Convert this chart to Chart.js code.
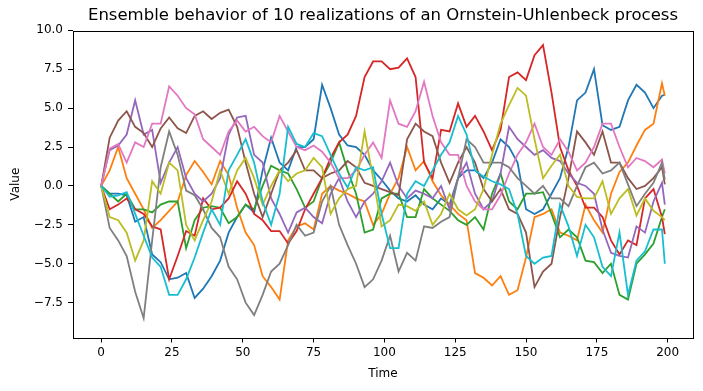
<!DOCTYPE html>
<html><head><meta charset="utf-8">
<script src="https://cdn.jsdelivr.net/npm/chart.js@4/dist/chart.umd.min.js"></script>
<style>html,body{margin:0;padding:0;background:#fff;}canvas{display:block;}</style>
</head><body>
<canvas id="c" width="703" height="391"></canvas>
<script>
const times = [0,3,6,9,12,15,18,21,24,27,30,33,36,39,42,45,48,51,54,57,60,63,66,69,72,75,78,81,84,87,90,93,96,99,102,105,108,111,114,117,120,123,126,129,132,135,138,141,144,147,150,153,156,159,162,165,168,171,174,177,180,183,186,189,192,195,198,199];

const real0 = [0,-0.5,-0.5,-0.6,-2.3,-2.0,-4.4,-4.9,-6.0,-5.9,-5.6,-7.2,-6.6,-5.8,-4.8,-3.0,-2.0,-1.2,-1.7,1.0,3.1,1.5,1.0,2.5,2.5,3.0,6.5,5.0,3.3,2.6,2.5,2.0,1.0,0.4,-0.3,-0.8,-1.0,-0.6,-1.2,-1.5,-0.8,-1.2,0.5,1.0,1.0,0.5,1.5,3.0,2.5,1.5,-1.5,-1.8,-1.5,-0.5,0.5,2.5,5.5,6.0,7.5,3.9,3.6,3.8,5.5,6.5,6.0,5.0,5.8,5.85];
const real1 = [0,1.0,2.5,0.5,-0.5,-1.5,-2.7,-2.2,-1.6,-1.0,0.7,1.6,0.9,0.1,1.6,0.7,-1.4,-3.0,-3.8,-5.8,-6.5,-7.3,-3.5,-2.6,-2.4,-2.8,-0.5,0.0,-0.3,-0.5,-0.8,-1.0,-2.5,-1.8,-0.5,0.5,2.5,1.0,1.6,0.3,-0.6,-1.2,-1.8,-2.2,-5.6,-5.9,-6.4,-5.8,-7.0,-6.7,-4.6,-2.0,-1.8,-1.5,-3.0,-3.2,-3.5,-1.2,-2.2,-3.0,-0.5,0.9,1.5,2.6,3.6,4.0,6.6,5.8];
const real2 = [0,-0.5,-1.0,-0.5,-1.5,-1.5,-1.7,-1.2,-1.0,-1.0,-4.0,-2.2,-1.4,-1.3,-1.4,-2.4,-2.0,-1.2,-1.5,0.0,1.3,1.0,0.8,-0.2,-1.4,-1.0,0.5,1.5,2.8,1.0,-0.5,-3.0,-2.8,-0.8,-0.5,-0.5,-2.0,-2.0,-0.2,-0.8,-1.2,-1.6,-2.2,-2.5,-2.0,-2.8,-0.5,0.8,-1.0,-1.5,-0.5,-0.5,-0.4,-1.8,-3.3,-2.8,-3.3,-4.8,-4.9,-5.6,-5.0,-7.0,-7.3,-5.0,-4.4,-3.7,-2.0,-1.5];
const real3 = [0,-1.5,-1.2,-0.8,-1.5,-1.8,-2.6,-2.8,-6.0,-4.5,-2.9,-3.2,-0.8,-1.5,-1.4,-0.8,0.3,-0.5,-1.8,-2.2,-2.9,-2.9,-3.7,-2.9,-1.5,-0.5,0.5,1.8,2.8,3.3,4.5,7.0,8.0,8.0,7.5,7.6,8.2,7.0,1.5,0.5,3.6,3.5,5.3,3.8,4.5,3.5,2.3,3.6,7.0,7.3,6.8,8.4,9.05,6.0,2.5,1.0,0.0,-1.4,-1.4,-2.0,-3.5,-4.4,-3.5,-3.8,-0.8,-0.2,-2.0,-3.1];
const real4 = [0,2.3,2.6,3.3,5.5,3.3,3.6,0.2,1.5,2.5,0.5,-0.5,-1.0,-0.5,0.5,3.3,4.4,4.5,2.0,1.5,-0.8,-1.8,-3.0,-1.7,-1.4,-2.0,-2.4,-0.5,0.5,-1.0,-2.0,-1.0,-0.5,0.3,1.5,0.0,-0.8,-0.3,-0.5,-0.8,0.0,-1.5,0.5,1.5,-0.5,-1.5,-1.0,0.8,3.8,3.0,2.5,2.0,2.3,1.8,1.6,0.8,0.2,0.0,-0.5,-2.8,-4.3,-4.5,-4.6,-2.6,-3.0,-1.0,0.2,-1.2];
const real5 = [0,3.1,4.2,4.8,3.8,3.4,2.5,3.7,4.4,3.7,3.4,4.5,4.8,4.3,4.7,4.9,3.8,1.5,-0.5,-2.0,-0.5,1.0,1.5,2.3,1.0,1.0,0.5,0.8,1.0,1.6,1.2,0.2,0.0,-0.2,-0.4,-0.6,3.0,4.0,3.5,3.2,1.5,0.2,1.5,2.5,1.5,-0.2,-1.0,-0.2,-1.5,-1.8,-3.0,-6.5,-5.5,-5.0,-2.0,0.5,3.5,2.8,2.0,3.5,1.5,1.5,0.5,-0.2,0.0,0.5,1.2,0.1];
const real6 = [0,2.4,2.7,1.5,2.8,2.5,4.0,4.0,6.4,5.8,5.0,4.6,3.0,2.5,2.0,3.5,4.2,3.5,3.8,3.2,2.8,4.5,3.5,2.5,2.3,2.6,2.2,1.5,0.5,0.5,1.0,2.0,2.8,1.8,5.5,4.0,3.8,4.8,6.7,4.5,2.8,2.0,2.0,0.0,-1.0,-1.5,-1.5,-0.6,0.8,2.0,2.8,4.0,2.5,2.0,3.0,2.2,1.0,1.5,2.5,4.0,4.0,2.5,1.2,1.8,1.6,1.2,1.7,0.8];
const real7 = [0,-2.7,-3.5,-4.5,-6.8,-8.5,-3.5,1.2,3.5,2.0,-0.3,-0.6,-1.5,-2.7,-3.3,-5.2,-6.0,-7.5,-8.3,-7.0,-5.5,-5.0,-3.8,-2.5,-3.2,-3.0,-1.0,0.0,-2.5,-3.8,-5.0,-6.5,-6.0,-4.8,-3.2,-5.5,-4.3,-4.8,-2.6,-2.7,-2.3,-2.0,0.5,3.0,2.5,1.5,1.5,1.5,1.2,0.5,0.0,-0.5,0.0,-0.8,-0.8,-1.3,0.0,1.2,1.5,0.8,1.0,1.5,0.1,-1.3,-0.5,0.2,1.5,0.4];
const real8 = [0,-2.0,-2.2,-3.0,-4.8,-3.5,0.3,-0.5,1.5,1.0,-2.5,-3.5,-2.2,-1.0,1.0,-0.5,1.0,1.8,0.5,-1.2,0.0,1.0,0.3,0.8,1.0,1.8,1.2,-1.8,-0.8,-0.2,0.0,3.5,0.5,-2.6,-2.2,-1.2,-1.3,-1.6,-1.0,-2.5,-1.8,-0.5,-1.5,-1.9,-1.5,-0.2,2.0,4.0,5.2,6.3,5.8,3.0,0.5,1.3,2.0,0.0,-0.7,-0.8,-0.8,0.3,-1.8,-0.8,-0.2,-1.9,-0.8,-1.6,-2.0,-2.2];
const real9 = [0,-0.7,-0.6,-0.4,-1.8,-3.2,-4.6,-5.2,-7.0,-7.0,-6.0,-4.6,-3.0,-1.5,-2.5,1.0,2.0,3.0,1.5,-1.0,-2.5,-0.5,3.8,2.7,2.5,3.4,3.2,2.0,0.8,-0.1,1.2,1.0,1.2,-1.8,-4.0,-4.0,-0.5,0.3,0.0,1.0,2.0,2.8,4.5,3.3,1.0,0.6,0.3,0.1,-0.2,-1.8,-4.5,-5.0,-4.6,-4.5,-1.2,-2.6,-4.5,-2.5,-3.3,-5.2,-5.8,-3.0,-7.0,-4.8,-4.2,-2.8,-2.8,-5.0];

const xTicks = [0,25,50,75,100,125,150,175,200];
const yTicks = [-7.5,-5.0,-2.5,0.0,2.5,5.0,7.5,10.0];
const titleText = 'Ensemble behavior of 10 realizations of an Ornstein-Uhlenbeck process';

const seriesList = [real0,real1,real2,real3,real4,real5,real6,real7,real8,real9];
const colors = ['#1f77b4','#ff7f0e','#2ca02c','#d62728','#9467bd','#8c564b','#e377c2','#7f7f7f','#bcbd22','#17becf'];

Chart.defaults.font.family = "'DejaVu Sans', sans-serif";
Chart.defaults.color = '#000';

const datasets = seriesList.map((vals, i) => ({
  label: 'R' + (i + 1),
  data: vals.map((v, k) => ({x: times[k], y: v})),
  borderColor: colors[i],
  borderWidth: 1.8,
  pointRadius: 0,
  tension: 0,
  fill: false,
  order: seriesList.length - 1 - i
}));

const frame = {
  id: 'frame',
  afterDatasetsDraw(chart) {
    const a = chart.chartArea, c = chart.ctx;
    c.save();
    c.strokeStyle = '#000';
    c.lineWidth = 1;
    c.strokeRect(Math.round(a.left) + 0.5, Math.round(a.top) + 0.5, Math.round(a.right - a.left), Math.round(a.bottom - a.top));
    c.restore();
  }
};

const fmt = v => (v < 0 ? '\u2212' : '') + Math.abs(v).toFixed(1);

new Chart(document.getElementById('c'), {
  type: 'line',
  data: { datasets },
  options: {
    responsive: false,
    animation: false,
    devicePixelRatio: 1,
    layout: { padding: { left: 0, right: 10, top: 0, bottom: 0 } },
    plugins: {
      legend: { display: false },
      tooltip: { enabled: false },
      title: { display: true, fullSize: false, text: titleText, color: '#000', font: { size: 16.5, weight: 'normal' }, padding: { top: 6, bottom: 5 } }
    },
    scales: {
      x: {
        type: 'linear', min: -9.95, max: 208.95,
        afterBuildTicks: s => { s.ticks = xTicks.map(v => ({ value: v })); },
        afterFit: s => { s.height = 53.5; },
        ticks: { callback: v => String(v), font: { size: 12 }, color: '#000', padding: 3, maxRotation: 0, autoSkip: false },
        grid: { drawOnChartArea: false, drawTicks: true, tickLength: 5, color: '#000', lineWidth: 1 },
        border: { display: false },
        title: { display: true, text: 'Time', color: '#000', font: { size: 12 }, padding: { top: 0, bottom: 10 } }
      },
      y: {
        type: 'linear', min: -9.74, max: 9.97,
        afterBuildTicks: s => { s.ticks = yTicks.map(v => ({ value: v })); },
        afterFit: s => { s.width = 73; },
        ticks: { callback: v => fmt(v), font: { size: 12 }, color: '#000', padding: 5 },
        grid: { drawOnChartArea: false, drawTicks: true, tickLength: 5, color: '#000', lineWidth: 1 },
        border: { display: false },
        title: { display: true, text: 'Value', color: '#000', font: { size: 12 }, padding: { top: 9, bottom: 0 } }
      }
    }
  },
  plugins: [frame]
});
</script>
</body></html>
